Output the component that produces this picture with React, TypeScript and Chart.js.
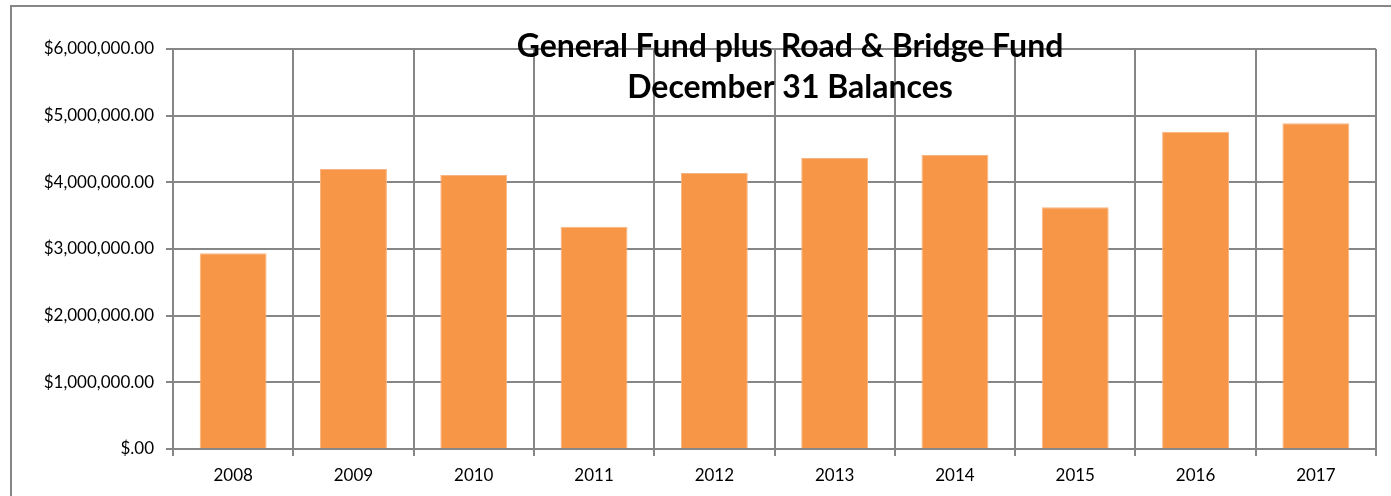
import React, { useEffect, useRef } from "react";
import { Chart, registerables } from "chart.js";

Chart.register(...registerables);

const categories = ["2008", "2009", "2010", "2011", "2012", "2013", "2014", "2015", "2016", "2017"];
const balances = [2935000, 4200000, 4110000, 3335000, 4140000, 4365000, 4410000, 3625000, 4760000, 4885000];
const yTickLabels = ["$.00", "$1,000,000.00", "$2,000,000.00", "$3,000,000.00", "$4,000,000.00", "$5,000,000.00", "$6,000,000.00"];
const titleLines = ["General Fund plus Road & Bridge Fund", "December 31 Balances"];

const GRID = "#868686";
const FONT = "Lato, 'Open Sans', sans-serif";

const framePlugin = {
  id: "frame",
  beforeDraw(chart: any) {
    const ctx = chart.ctx;
    ctx.save();
    ctx.strokeStyle = GRID;
    ctx.lineWidth = 2;
    ctx.beginPath();
    ctx.moveTo(11, chart.height);
    ctx.lineTo(11, 6);
    ctx.lineTo(chart.width, 6);
    ctx.stroke();
    ctx.restore();
  },
};

const titlePlugin = {
  id: "overlayTitle",
  afterDraw(chart: any) {
    const ctx = chart.ctx;
    ctx.save();
    ctx.fillStyle = "#000";
    ctx.textAlign = "center";
    ctx.textBaseline = "middle";
    ctx.font = "bold 32px " + FONT;
    ctx.fillText(titleLines[0], 790, 47);
    ctx.fillText(titleLines[1], 790, 88);
    ctx.restore();
  },
};

export default function App() {
  const ref = useRef<HTMLCanvasElement | null>(null);
  useEffect(() => {
    document.body.style.margin = "0";
    const canvas = ref.current;
    if (!canvas) return;
    const chart = new Chart(canvas, {
      type: "bar",
      data: {
        labels: categories,
        datasets: [
          {
            data: balances,
            backgroundColor: "#F79646",
            borderColor: "#F9B581",
            borderWidth: 1,
            barPercentage: 0.556,
            categoryPercentage: 1,
          },
        ],
      },
      plugins: [framePlugin, titlePlugin],
      options: {
        responsive: false,
        animation: false,
        layout: { padding: { left: 0, top: 49, right: 15, bottom: 0 } },
        plugins: { legend: { display: false }, tooltip: { enabled: false }, title: { display: false } },
        scales: {
          x: {
            grid: { color: GRID, lineWidth: 2, offset: true, drawTicks: true, tickLength: 7 },
            border: { color: GRID, width: 2 },
            ticks: { color: "#000", font: { family: FONT, size: 17 }, padding: 9, maxRotation: 0 },
            afterFit: (s: any) => { s.height = 47; },
          },
          y: {
            min: 0,
            max: 6000000,
            grid: { color: GRID, lineWidth: 2, tickLength: 7 },
            border: { color: GRID, width: 2 },
            ticks: {
              stepSize: 1000000,
              color: "#000",
              font: { family: FONT, size: 17 },
              padding: 12,
              callback: (_v: any, i: number) => yTickLabels[i],
            },
            afterFit: (s: any) => { s.width = 173; },
          },
        },
      },
    });
    return () => chart.destroy();
  }, []);
  return <canvas ref={ref} width={1391} height={496} style={{ display: "block" }} />;
}
